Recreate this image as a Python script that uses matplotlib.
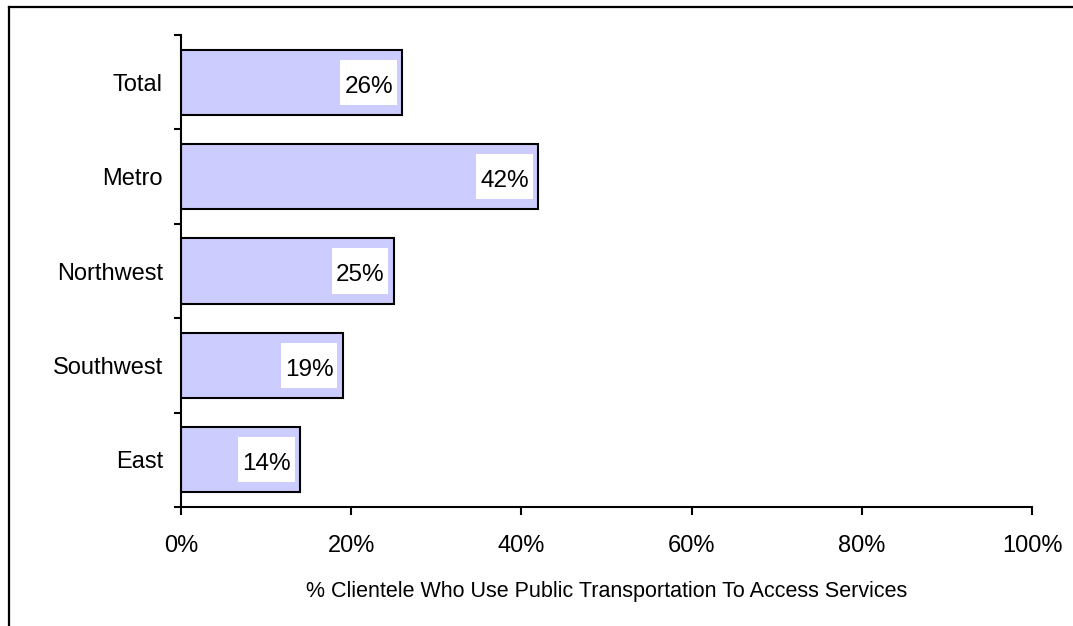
import numpy as np
import matplotlib.pyplot as plt
from matplotlib.lines import Line2D
from matplotlib.patches import Rectangle
from matplotlib.ticker import FixedLocator, PercentFormatter

plt.rcParams['font.family'] = ['Liberation Sans', 'DejaVu Sans']

# datos
regiones = ['Total', 'Metro', 'Northwest', 'Southwest', 'East']
porcentajes = [26, 42, 25, 19, 14]
etiquetas = ['26%', '42%', '25%', '19%', '14%']

fig = plt.figure(figsize=(10.73, 6.26), dpi=100)
ax = fig.add_axes([181/1073, 1 - 507/626, (1032 - 181)/1073, (507 - 35)/626])

y = np.arange(len(regiones))[::-1]
ax.barh(y, porcentajes, height=0.69, color='#CCCCFF', edgecolor='black', linewidth=1.5, zorder=2)

ax.set_xlim(0, 100)
ax.set_ylim(-0.5, len(regiones) - 0.5)

textos = []
for yi, v, lab in zip(y, porcentajes, etiquetas):
    t = ax.text(v - 1.1, yi - 0.02, lab, ha='right', va='center_baseline', fontsize=17.5, zorder=4)
    textos.append((t, yi))

ax.set_yticks(y)
ax.set_yticklabels(regiones, fontsize=17)
ax.yaxis.set_minor_locator(FixedLocator(np.arange(-0.5, len(regiones), 1.0)))
ax.tick_params(axis='y', which='major', length=0, pad=13)
ax.tick_params(axis='y', which='minor', length=5, width=1.5, direction='out')

ax.set_xticks([0, 20, 40, 60, 80, 100])
ax.xaxis.set_major_formatter(PercentFormatter(decimals=0))
ax.tick_params(axis='x', length=6, width=1.5, direction='out', pad=14, labelsize=17)
ax.set_xlabel('% Clientele Who Use Public Transportation To Access Services', fontsize=15.5, labelpad=17.5)

for s in ['top', 'right']:
    ax.spines[s].set_visible(False)
for s in ['left', 'bottom']:
    ax.spines[s].set_linewidth(1.5)

# cajas blancas detras de las etiquetas
fig.canvas.draw()
inv = ax.transData.inverted()
for t, yi in textos:
    bb = t.get_window_extent()
    x0, _ = inv.transform((bb.x0 - 4, 0))
    x1, _ = inv.transform((bb.x1 + 4, 0))
    ax.add_patch(Rectangle((x0, yi - 0.24), x1 - x0, 0.48, facecolor='white', edgecolor='none', zorder=3))

# marco de la figura
fig.add_artist(Line2D([9/1073, 9/1073], [0, 1 - 7/626], color='black', linewidth=1.6))
fig.add_artist(Line2D([9/1073, 1], [1 - 7/626, 1 - 7/626], color='black', linewidth=1.6))

fig.savefig('out.png', dpi=100)
